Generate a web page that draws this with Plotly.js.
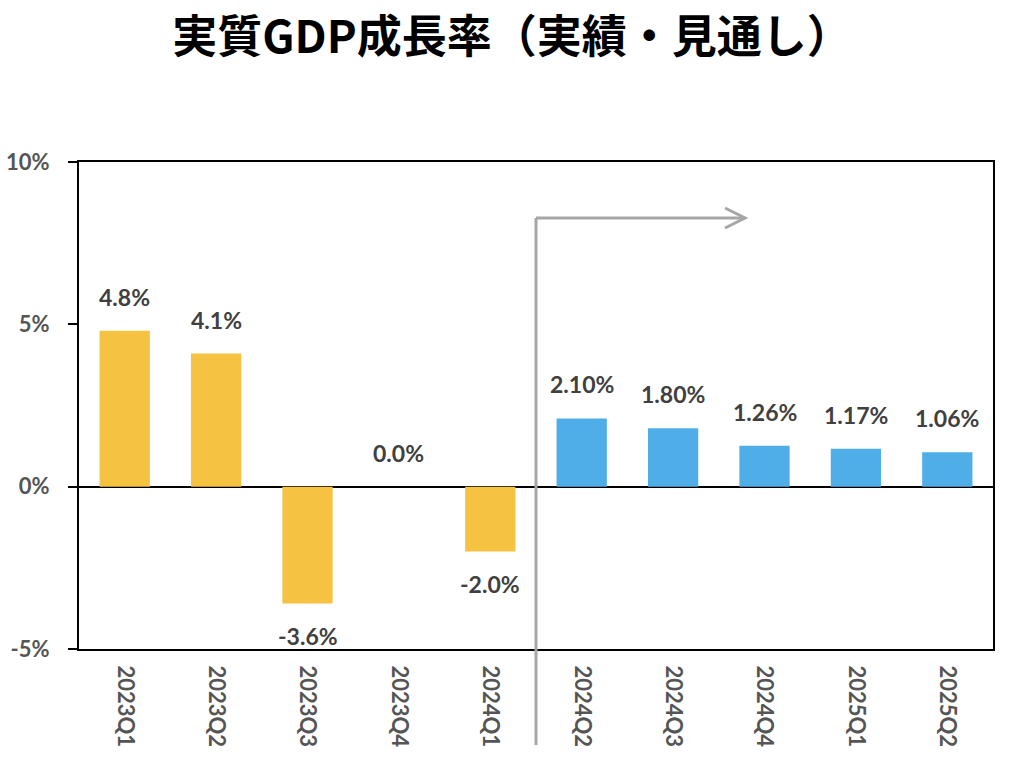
<!DOCTYPE html>
<html><head><meta charset="utf-8">
<script src="https://cdn.plot.ly/plotly-3.0.1.min.js"></script>
<style>body{margin:0;background:#fff}#c{width:1020px;height:776px}</style>
</head><body><div id="c"></div>
<script>
const categories = ["2023Q1","2023Q2","2023Q3","2023Q4","2024Q1","2024Q2","2024Q3","2024Q4","2025Q1","2025Q2"];
const values = [4.8, 4.1, -3.6, 0.0, -2.0, 2.10, 1.80, 1.26, 1.17, 1.06];
const labels = ["4.8%","4.1%","-3.6%","0.0%","-2.0%","2.10%","1.80%","1.26%","1.17%","1.06%"];
const isForecast = [false,false,false,false,false,true,true,true,true,true];
const yTickVals = [-5, 0, 5, 10];
const yTickText = ["-5%","0%","5%","10%"];

const YELLOW = "#F5C242", BLUE = "#4FAEE8", GRAY = "#A6A6A6";
const FONT = "Lato, 'Noto Sans', sans-serif";

const trace = {
  type: "bar", x: categories, y: values,
  marker: {color: isForecast.map(f => f ? BLUE : YELLOW)},
  hoverinfo: "skip"
};

const annotations = categories.map((c, i) => ({
  x: c, y: values[i], xref: "x", yref: "y",
  text: "<b>" + labels[i] + "</b>", showarrow: false,
  yanchor: values[i] < 0 ? "top" : "bottom",
  yshift: values[i] < 0 ? -16 : 18,
  font: {family: FONT, size: 23, color: "#404040"}
}));

const shapes = [
  {type: "line", xref: "x", yref: "paper", x0: 4.5, x1: 4.5, y0: -0.197, y1: 0.885,
   line: {color: GRAY, width: 3}},
  {type: "line", xref: "x", yref: "paper", x0: 4.5, x1: 6.78, y0: 0.885, y1: 0.885,
   line: {color: GRAY, width: 3}},
  {type: "path", xref: "paper", yref: "paper",
   path: "M0.7068,0.9055 L0.7287,0.885 L0.7068,0.8645",
   line: {color: GRAY, width: 3}}
];

const layout = {
  width: 1020, height: 776,
  margin: {l: 79, r: 27, t: 162, b: 127},
  paper_bgcolor: "#fff", plot_bgcolor: "#fff",
  showlegend: false,
  bargap: 0.45,
  title: {
    text: "<b>実質GDP成長率（実績・見通し）</b>",
    font: {family: "'Noto Sans CJK JP', sans-serif", size: 45, color: "#000"},
    x: 0.502, xanchor: "center", xref: "container",
    y: 0.952, yanchor: "middle", yref: "container"
  },
  xaxis: {
    type: "category", tickangle: 90,
    tickvals: categories, ticktext: categories.map(c => "<b>" + c + "</b>"),
    showline: true, mirror: true, linecolor: "#000", linewidth: 2,
    ticks: "", showgrid: false, zeroline: false,
    tickfont: {family: FONT, size: 22, color: "#555555", weight: "bold"},
    ticklabelstandoff: 10
  },
  yaxis: {
    range: [-5, 10], tickvals: yTickVals, ticktext: yTickText.map(t => "<b>" + t + "</b>"),
    showline: true, mirror: true, linecolor: "#000", linewidth: 2,
    ticks: "outside", ticklen: 9, tickwidth: 2, tickcolor: "#000",
    showgrid: false, zeroline: true, zerolinecolor: "#000", zerolinewidth: 2,
    tickfont: {family: FONT, size: 22, color: "#555555", weight: "bold"},
    ticklabelstandoff: 14
  },
  annotations: annotations,
  shapes: shapes
};

Plotly.newPlot("c", [trace], layout, {displayModeBar: false, staticPlot: true});
</script></body></html>
